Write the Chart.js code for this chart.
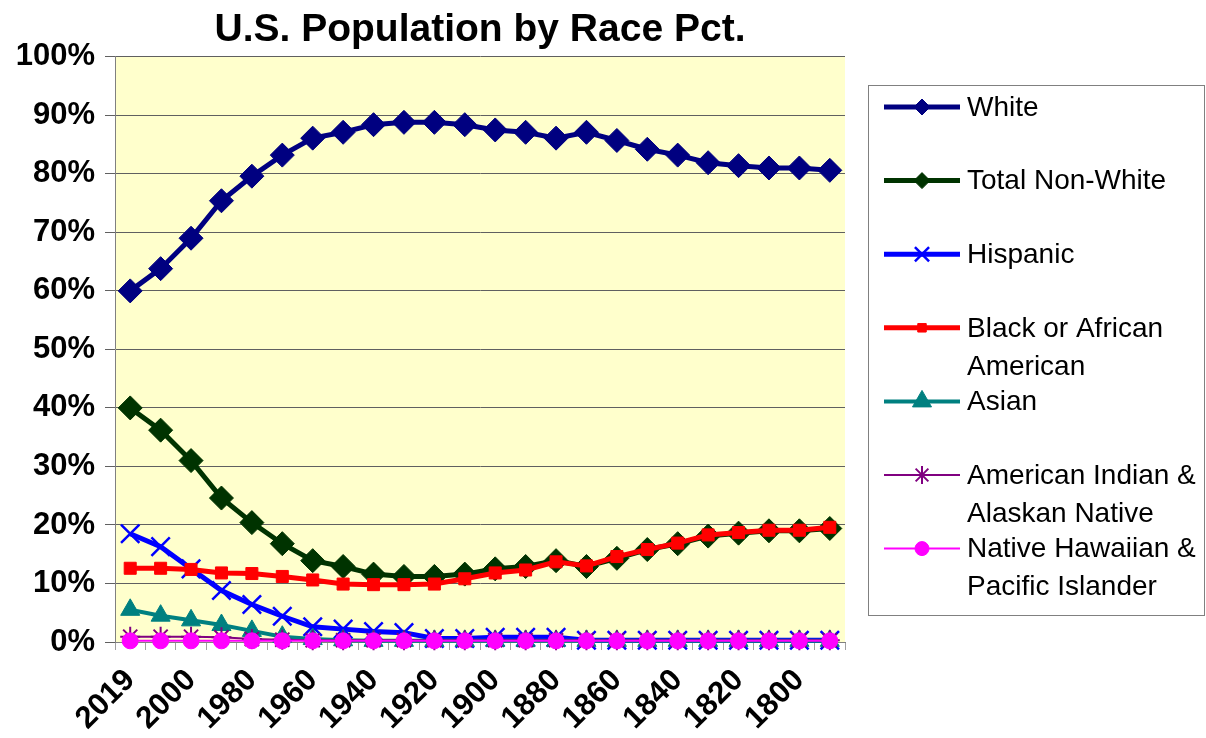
<!DOCTYPE html>
<html>
<head>
<meta charset="utf-8">
<title>U.S. Population by Race Pct.</title>
<script src="https://cdn.jsdelivr.net/npm/chart.js@4.4.1/dist/chart.umd.min.js"></script>
<style>
  html, body { margin: 0; padding: 0; background: #fff; }
  #raceChart { display: block; }
</style>
</head>
<body>
<canvas id="raceChart" width="1206" height="738"></canvas>
<script>
// census years, newest first (as in the sheet)
const years = ["2019", "2010", "2000", "1990", "1980", "1970", "1960", "1950", "1940", "1930", "1920", "1910",
  "1900", "1890", "1880", "1870", "1860", "1850", "1840", "1830", "1820", "1810", "1800", "1790"];

// percent of population
const white = [60.0, 63.8, 69.0, 75.4, 79.6, 83.2, 86.1, 87.1, 88.4, 88.8, 88.8, 88.4,
  87.5, 87.1, 86.1, 87.1, 85.7, 84.2, 83.2, 81.9, 81.4, 81.0, 81.0, 80.6];
const nonWhite = [40.0, 36.2, 31.0, 24.6, 20.4, 16.8, 13.9, 12.9, 11.6, 11.2, 11.2, 11.6,
  12.5, 12.9, 13.9, 12.9, 14.3, 15.8, 16.8, 18.1, 18.6, 19.0, 19.0, 19.4];
const hispanic = [18.5, 16.3, 12.5, 8.8, 6.4, 4.4, 2.6, 2.2, 1.8, 1.6, 0.6, 0.6,
  0.8, 0.8, 0.8, 0.3, 0.3, 0.3, 0.3, 0.3, 0.3, 0.3, 0.3, 0.3];
const black = [12.6, 12.6, 12.4, 11.8, 11.7, 11.2, 10.6, 9.9, 9.8, 9.8, 9.9, 10.8,
  11.8, 12.3, 13.7, 13.0, 14.6, 15.8, 16.9, 18.3, 18.7, 19.1, 19.1, 19.6];
const asian = [5.5, 4.5, 3.7, 2.9, 1.9, 0.9, 0.5, 0.3, 0.2, 0.2, 0.2, 0.2,
  0.2, 0.2, 0.2, 0.2, 0.2, 0.2, 0.2, 0.2, 0.2, 0.2, 0.2, 0.2];
const amIndian = [0.9, 0.9, 0.9, 0.8, 0.5, 0.4, 0.3, 0.3, 0.3, 0.3, 0.3, 0.3,
  0.3, 0.3, 0.3, 0.3, 0.3, 0.3, 0.3, 0.3, 0.3, 0.3, 0.3, 0.3];
const hawaiian = [0.2, 0.2, 0.2, 0.2, 0.2, 0.2, 0.2, 0.2, 0.2, 0.2, 0.2, 0.2,
  0.2, 0.2, 0.2, 0.2, 0.2, 0.2, 0.2, 0.2, 0.2, 0.2, 0.2, 0.2];

const legendLines = [
  ["White"],
  ["Total Non-White"],
  ["Hispanic"],
  ["Black or African", "American"],
  ["Asian"],
  ["American Indian &", "Alaskan Native"],
  ["Native Hawaiian &", "Pacific Islander"]
];

const fontFamily = "'Liberation Sans', Arial, sans-serif";

function makeSet(label, data, color, style, radius, lineWidth, pointBorder, legendRadius) {
  return {
    label: label,
    data: data,
    borderColor: color,
    backgroundColor: color,
    pointBackgroundColor: color,
    pointBorderColor: color,
    pointStyle: style,
    pointRadius: radius,
    pointHoverRadius: radius,
    pointBorderWidth: pointBorder,
    borderWidth: lineWidth,
    tension: 0,
    clip: false,
    legendRadius: legendRadius
  };
}

const datasets = [
  makeSet("White", white, "#000080", "rectRot", 12, 5, 1, 8),
  makeSet("Total Non-White", nonWhite, "#003300", "rectRot", 12, 5, 1, 8),
  makeSet("Hispanic", hispanic, "#0000ff", "crossRot", 13, 5, 2.5, 10),
  makeSet("Black or African American", black, "#ff0000", "rect", 8.5, 5, 1, 6),
  makeSet("Asian", asian, "#008080", "triangle", 11, 4, 1, 11),
  makeSet("American Indian & Alaskan Native", amIndian, "#800080", "star", 10, 2, 2, 9),
  makeSet("Native Hawaiian & Pacific Islander", hawaiian, "#ff00ff", "circle", 8, 2, 1, 7)
];
// later series sit on top, like the spreadsheet
datasets.forEach((ds, i) => { ds.order = datasets.length - i; });

const plotBackground = {
  id: "plotBackground",
  beforeDraw(chart) {
    const a = chart.chartArea;
    const ctx = chart.ctx;
    ctx.save();
    ctx.fillStyle = "#ffffcc";
    ctx.fillRect(a.left, a.top, a.right - a.left, a.bottom - a.top);
    ctx.restore();
  }
};

// boxed legend with two-line labels, drawn in the right margin
const boxLegend = {
  id: "boxLegend",
  afterDraw(chart) {
    const ctx = chart.ctx;
    ctx.save();
    ctx.strokeStyle = "#808080";
    ctx.lineWidth = 1;
    ctx.strokeRect(868.5, 85.5, 336, 530);
    chart.data.datasets.forEach((ds, i) => {
      const y = 107 + i * 73.6;
      ctx.strokeStyle = ds.borderColor;
      ctx.lineWidth = ds.borderWidth;
      ctx.beginPath();
      ctx.moveTo(884, y);
      ctx.lineTo(960, y);
      ctx.stroke();
      ctx.fillStyle = ds.borderColor;
      ctx.lineWidth = ds.pointBorderWidth;
      Chart.helpers.drawPoint(ctx, {
        pointStyle: ds.pointStyle,
        radius: ds.legendRadius,
        borderWidth: ds.pointBorderWidth,
        rotation: 0
      }, 922, y);
      ctx.fillStyle = "#000";
      ctx.font = "28px " + fontFamily;
      ctx.textBaseline = "middle";
      ctx.textAlign = "left";
      legendLines[i].forEach((t, k) => ctx.fillText(t, 967, y + 1 + k * 38));
    });
    ctx.restore();
  }
};

const ctx = document.getElementById("raceChart").getContext("2d");

new Chart(ctx, {
  type: "line",
  data: { labels: years, datasets: datasets },
  options: {
    responsive: false,
    animation: false,
    devicePixelRatio: 1,
    layout: { padding: { left: 0, right: 361, top: 0, bottom: 0 } },
    plugins: {
      legend: { display: false },
      tooltip: { enabled: false },
      title: {
        display: true,
        fullSize: false,
        text: "U.S. Population by Race Pct.",
        color: "#000",
        font: { family: fontFamily, size: 39, weight: "bold", lineHeight: 1.2 },
        padding: { top: 7, bottom: 3 }
      }
    },
    scales: {
      x: {
        type: "category",
        offset: true,
        afterFit: (scale) => { scale.height = 96; },
        grid: { offset: true, drawOnChartArea: false, drawTicks: true, tickLength: 8, color: "#a0a0a0" },
        border: { color: "#808080" },
        ticks: {
          autoSkip: false,
          maxRotation: 45,
          minRotation: 45,
          padding: 12,
          color: "#000",
          font: { family: fontFamily, size: 31, weight: "bold" },
          callback: (v, i) => (i % 2 ? "" : years[i])
        }
      },
      y: {
        min: 0,
        max: 100,
        afterFit: (scale) => { scale.width = 115; },
        grid: { color: "#606060", tickLength: 10 },
        border: { color: "#808080" },
        ticks: {
          stepSize: 10,
          padding: 10,
          color: "#000",
          font: { family: fontFamily, size: 31, weight: "bold" },
          callback: (v) => v + "%"
        }
      }
    }
  },
  plugins: [plotBackground, boxLegend]
});
</script>
</body>
</html>
